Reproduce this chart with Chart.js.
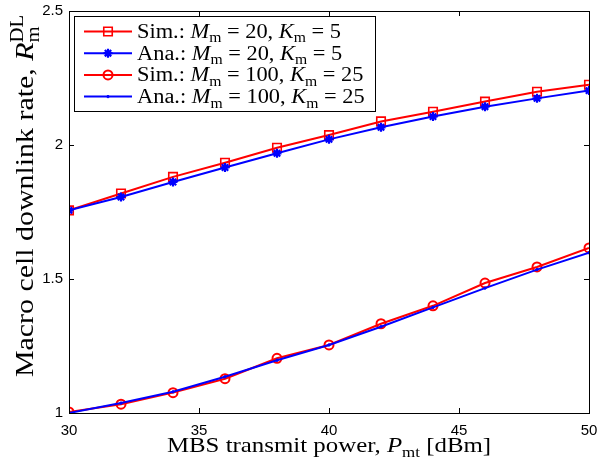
<!DOCTYPE html>
<html>
<head>
<meta charset="utf-8">
<script src="https://cdn.jsdelivr.net/npm/chart.js@4.4.1/dist/chart.umd.min.js"></script>
<style>
  html, body { margin: 0; padding: 0; background: #fff; }
  #wrap { width: 598px; height: 471px; }
</style>
</head>
<body>
<div id="wrap"><canvas id="rateChart" width="598" height="471"></canvas></div>
<script>
// MBS transmit power (dBm)
const powers = [30, 32, 34, 36, 38, 40, 42, 44, 46, 48, 50];

// macro cell downlink rate
const simM20 = [1.756, 1.819, 1.881, 1.934, 1.990, 2.037, 2.088, 2.124, 2.162, 2.199, 2.225];
const anaM20 = [1.756, 1.806, 1.862, 1.916, 1.969, 2.021, 2.066, 2.106, 2.143, 2.174, 2.203];
const simM100 = [1.004, 1.033, 1.076, 1.128, 1.204, 1.254, 1.333, 1.400, 1.485, 1.545, 1.616];
const anaM100 = [1.000, 1.037, 1.079, 1.135, 1.197, 1.254, 1.322, 1.394, 1.466, 1.535, 1.598];

const xTicks = [30, 35, 40, 45, 50];
const yTicks = [1, 1.5, 2, 2.5];

// legend text pieces
const kinds = ['Sim.:', 'Ana.:', 'Sim.:', 'Ana.:'];
const mValues = [20, 20, 100, 100];
const kValues = [5, 5, 25, 25];

const SERIF = '"Liberation Serif", "Times New Roman", serif';
const SANS = '"Liberation Sans", Arial, sans-serif';

function pts(ys) {
    return ys.map((y, i) => ({ x: powers[i], y: y }));
}

const series = [
    { data: simM20, color: '#ff0000', style: 'rect', radius: 6, bw: 1.6 },
    { data: anaM20, color: '#0000ff', style: 'star', radius: 4.5, bw: 2.2 },
    { data: simM100, color: '#ff0000', style: 'circle', radius: 4.5, bw: 2 },
    { data: anaM100, color: '#0000ff', style: 'circle', radius: 1.2, bw: 1 }
];

// rich text: parts {t, it, sub, sup}
function drawRich(ctx, parts, x, y, size, draw) {
    let cx = x;
    parts.forEach(p => {
        ctx.font = (p.it ? 'italic ' : '') + size + 'px ' + SERIF;
        if (draw) ctx.fillText(p.t, cx, y);
        cx += ctx.measureText(p.t).width;
        if (p.sub || p.sup) {
            const s = Math.round(size * 0.7);
            ctx.font = s + 'px ' + SERIF;
            let w = 0;
            if (p.sub) {
                if (draw) ctx.fillText(p.sub, cx, y + size * 0.22);
                w = ctx.measureText(p.sub).width;
            }
            if (p.sup) {
                if (draw) ctx.fillText(p.sup, cx, y - size * 0.4);
                w = Math.max(w, ctx.measureText(p.sup).width);
            }
            cx += w;
        }
    });
    return cx - x;
}

const frame = {
    id: 'frame',
    afterDraw(chart) {
        const ctx = chart.ctx;
        const a = chart.chartArea;
        const xs = chart.scales.x, ys = chart.scales.y;
        ctx.save();
        ctx.strokeStyle = '#000';
        ctx.lineWidth = 1;
        ctx.strokeRect(Math.round(a.left) + 0.5, Math.round(a.top) + 0.5,
            Math.round(a.right - a.left), Math.round(a.bottom - a.top));
        ctx.beginPath();
        xTicks.forEach(v => {
            const px = Math.round(xs.getPixelForValue(v)) + 0.5;
            ctx.moveTo(px, a.bottom); ctx.lineTo(px, a.bottom - 5);
            ctx.moveTo(px, a.top); ctx.lineTo(px, a.top + 5);
        });
        yTicks.forEach(v => {
            const py = Math.round(ys.getPixelForValue(v)) + 0.5;
            ctx.moveTo(a.left, py); ctx.lineTo(a.left + 5, py);
            ctx.moveTo(a.right, py); ctx.lineTo(a.right - 5, py);
        });
        ctx.stroke();

        // legend
        const lx = 74, ly = 16, lw = 301, lh = 95;
        ctx.fillStyle = '#fff';
        ctx.fillRect(lx, ly, lw, lh);
        ctx.strokeRect(lx + 0.5, ly + 0.5, lw, lh);
        ctx.textBaseline = 'alphabetic';
        series.forEach((s, i) => {
            const ry = 31.5 + i * 21.7;
            ctx.strokeStyle = s.color;
            ctx.lineWidth = 2;
            ctx.beginPath();
            ctx.moveTo(84, ry); ctx.lineTo(132, ry);
            ctx.stroke();
            ctx.lineWidth = s.bw;
            ctx.fillStyle = s.style === 'circle' && s.radius < 2 ? s.color : 'rgba(0,0,0,0)';
            Chart.helpers.drawPoint(ctx, { pointStyle: s.style, radius: s.radius, rotation: 0, borderWidth: s.bw }, 108, ry);
            ctx.fillStyle = '#000';
            const parts = [
                { t: kinds[i] + ' ' },
                { t: 'M', it: true, sub: 'm' },
                { t: ' = ' + mValues[i] + ', ' },
                { t: 'K', it: true, sub: 'm' },
                { t: ' = ' + kValues[i] }
            ];
            ctx.save();
            ctx.translate(137, ry + 6.5);
            ctx.scale(1.12, 1);
            drawRich(ctx, parts, 0, 0, 20, true);
            ctx.restore();
        });

        // axis titles
        ctx.fillStyle = '#000';
        const xParts = [
            { t: 'MBS transmit power, ' },
            { t: 'P', it: true, sub: 'mt' },
            { t: ' [dBm]' }
        ];
        const xw = drawRich(ctx, xParts, 0, 0, 22, false) * 1.13;
        ctx.save();
        ctx.translate((a.left + a.right) / 2 - xw / 2, 452);
        ctx.scale(1.13, 1);
        drawRich(ctx, xParts, 0, 0, 22, true);
        ctx.restore();

        const yParts = [
            { t: 'Macro cell downlink rate, ' },
            { t: 'R', it: true, sub: 'm', sup: 'DL' }
        ];
        const yw = drawRich(ctx, yParts, 0, 0, 26, false) * 1.15;
        ctx.save();
        ctx.translate(33, 196);
        ctx.rotate(-Math.PI / 2);
        ctx.translate(-yw / 2, 0);
        ctx.scale(1.15, 1);
        drawRich(ctx, yParts, 0, 0, 26, true);
        ctx.restore();
        ctx.restore();
    }
};

function noPad(sc) {
    sc.paddingLeft = 0; sc.paddingRight = 0;
    sc.paddingTop = 0; sc.paddingBottom = 0;
}

new Chart(document.getElementById('rateChart'), {
    type: 'line',
    data: {
        datasets: series.map((s, i) => ({
            data: pts(s.data),
            borderColor: s.color,
            borderWidth: 2,
            pointStyle: s.style,
            pointRadius: s.radius,
            pointBorderWidth: s.bw,
            pointBorderColor: s.color,
            pointBackgroundColor: s.radius < 2 ? s.color : 'rgba(0,0,0,0)',
            fill: false,
            tension: 0,
            order: 4 - i
        }))
    },
    options: {
        responsive: false,
        animation: false,
        events: [],
        layout: { padding: { left: 0, right: 9, top: 11, bottom: 0 } },
        plugins: { legend: { display: false }, tooltip: { enabled: false } },
        scales: {
            x: {
                type: 'linear',
                min: 30,
                max: 50,
                grid: { display: false, drawTicks: false },
                border: { display: false },
                afterBuildTicks: sc => { sc.ticks = xTicks.map(v => ({ value: v })); },
                afterFit: sc => { sc.height = 58; noPad(sc); },
                ticks: {
                    color: '#000',
                    padding: 9,
                    maxRotation: 0,
                    font: { family: SANS, size: 15 },
                    callback: v => String(v)
                }
            },
            y: {
                min: 1,
                max: 2.5,
                grid: { display: false, drawTicks: false },
                border: { display: false },
                afterBuildTicks: sc => { sc.ticks = yTicks.map(v => ({ value: v })); },
                afterFit: sc => { sc.width = 69; noPad(sc); },
                ticks: {
                    color: '#000',
                    padding: 6,
                    font: { family: SANS, size: 15 },
                    callback: v => String(v)
                }
            }
        }
    },
    plugins: [frame]
});
</script>
</body>
</html>
